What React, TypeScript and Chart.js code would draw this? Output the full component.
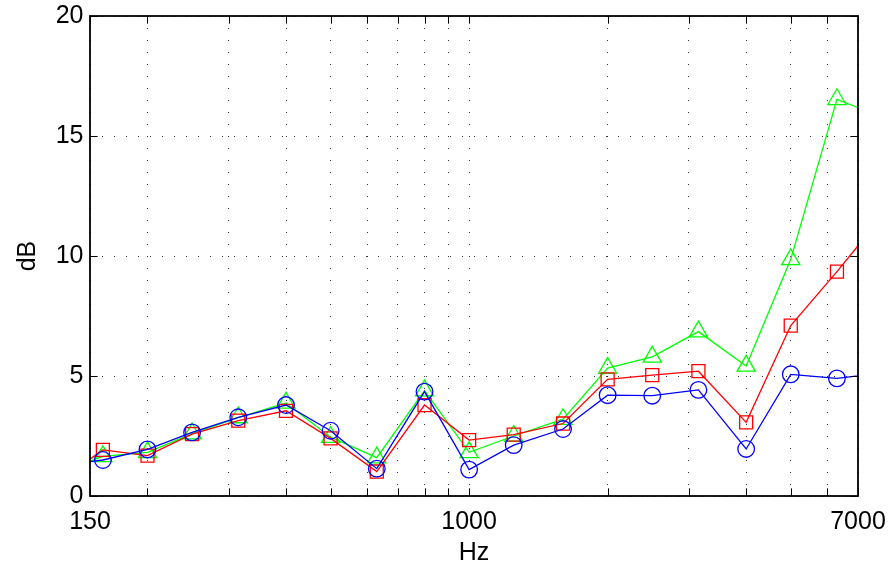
import React, { useEffect, useRef } from "react";
import { Chart, registerables } from "chart.js";

Chart.register(...registerables);

// Third-octave band centre frequencies (Hz); 125 and 8000 lie just outside the visible range
const frequencies = [125, 160, 200, 250, 315, 400, 500, 630, 800, 1000, 1250, 1600, 2000, 2500, 3150, 4000, 5000, 6300, 8000];
const seriesBlue = [1.23, 1.5, 1.94, 2.65, 3.28, 3.79, 2.72, 1.14, 4.35, 1.1, 2.12, 2.79, 4.2, 4.18, 4.42, 1.96, 5.07, 4.9, 5.13];
const seriesRed = [0.46, 1.92, 1.68, 2.58, 3.14, 3.55, 2.4, 1.02, 3.79, 2.33, 2.56, 3.02, 4.86, 5.04, 5.2, 3.07, 7.1, 9.35, 11.78];
const seriesGreen = [0.89, 1.65, 1.82, 2.6, 3.27, 3.88, 2.45, 1.6, 4.39, 1.82, 2.5, 3.2, 5.33, 5.8, 6.85, 5.42, 9.86, 16.53, 15.74];

const xTickValues = [150, 200, 300, 400, 500, 600, 700, 800, 900, 1000, 2000, 3000, 4000, 5000, 6000, 7000];
const xTickLabels = ["150", "1000", "7000"];
const yTickValues = [0, 5, 10, 15, 20];

const FONT = "'Liberation Sans', Arial, Helvetica, sans-serif";

const framePlugin = {
  id: "matlabFrame",
  afterDraw(chart: any) {
    const { ctx, chartArea: a, scales } = chart;
    const tl = 7.7;
    ctx.save();
    ctx.strokeStyle = "#000";
    ctx.lineWidth = 1;
    ctx.beginPath();
    scales.x.ticks.forEach((t: any) => {
      const px = Math.round(scales.x.getPixelForValue(t.value)) + 0.5;
      ctx.moveTo(px, a.bottom);
      ctx.lineTo(px, a.bottom - tl);
      ctx.moveTo(px, a.top);
      ctx.lineTo(px, a.top + tl);
    });
    scales.y.ticks.forEach((t: any) => {
      const py = Math.round(scales.y.getPixelForValue(t.value)) + 0.5;
      ctx.moveTo(a.left, py);
      ctx.lineTo(a.left + tl, py);
      ctx.moveTo(a.right, py);
      ctx.lineTo(a.right - tl, py);
    });
    ctx.stroke();
    ctx.lineWidth = 1.8;
    ctx.strokeRect(a.left, a.top, a.right - a.left, a.bottom - a.top);
    ctx.restore();
  },
};

function makeSet(label: string, values: number[], color: string, style: string, radius: number, order: number) {
  return {
    label,
    data: frequencies.map((f, i) => ({ x: f, y: values[i] })),
    borderColor: color,
    borderWidth: 1.3,
    pointStyle: style,
    pointRadius: radius,
    pointBorderColor: color,
    pointBorderWidth: 1.3,
    pointBackgroundColor: "rgba(0,0,0,0)",
    tension: 0,
    fill: false,
    clip: 0,
    order,
  };
}

function zeroPadding(s: any) {
  s.paddingLeft = 0;
  s.paddingRight = 0;
  s.paddingTop = 0;
  s.paddingBottom = 0;
}

export default function App() {
  const ref = useRef<HTMLCanvasElement | null>(null);
  useEffect(() => {
    document.body.style.margin = "0";
    if (!ref.current) return;
    const gridStyle = { color: "#333", lineWidth: 1, drawTicks: false };
    const chart = new Chart(ref.current, {
      type: "line",
      data: {
        datasets: [
          makeSet("blue", seriesBlue, "#0000ff", "circle", 8.3, 0),
          makeSet("red", seriesRed, "#ff0000", "rect", 9.2, 1),
          makeSet("green", seriesGreen, "#00ff00", "triangle", 10.5, 2),
        ] as any,
      },
      options: {
        animation: false,
        responsive: false,
        devicePixelRatio: 1,
        layout: { padding: { left: 0, right: 33, top: 16, bottom: 0 } },
        plugins: { legend: { display: false }, tooltip: { enabled: false } },
        scales: {
          x: {
            type: "logarithmic",
            min: 150,
            max: 7000,
            offset: false,
            afterBuildTicks: (s: any) => {
              s.ticks = xTickValues.map((v) => ({ value: v }));
            },
            afterFit: (s: any) => {
              s.height = 70;
              zeroPadding(s);
            },
            ticks: {
              autoSkip: false,
              maxRotation: 0,
              minRotation: 0,
              padding: 11,
              color: "#000",
              font: { family: FONT, size: 25 },
              callback: (v: any) => (xTickLabels.includes(String(v)) ? String(v) : ""),
            },
            grid: gridStyle,
            border: { display: false, dash: [1, 11] },
            title: {
              display: true,
              text: "Hz",
              color: "#000",
              font: { family: FONT, size: 25, lineHeight: 1 },
              padding: { top: 0, bottom: 0 },
            },
          },
          y: {
            type: "linear",
            min: 0,
            max: 20,
            afterBuildTicks: (s: any) => {
              s.ticks = yTickValues.map((v) => ({ value: v }));
            },
            afterFit: (s: any) => {
              s.width = 90;
              zeroPadding(s);
            },
            ticks: {
              padding: 6.5,
              color: "#000",
              font: { family: FONT, size: 25 },
            },
            grid: gridStyle,
            border: { display: false, dash: [1, 11] },
            title: {
              display: true,
              text: "dB",
              color: "#000",
              font: { family: FONT, size: 25, lineHeight: 1 },
              padding: { top: 15.5, bottom: 0 },
            },
          },
        },
      } as any,
      plugins: [framePlugin],
    });
    return () => chart.destroy();
  }, []);
  return <canvas ref={ref} width={891} height={566} style={{ display: "block" }} />;
}
